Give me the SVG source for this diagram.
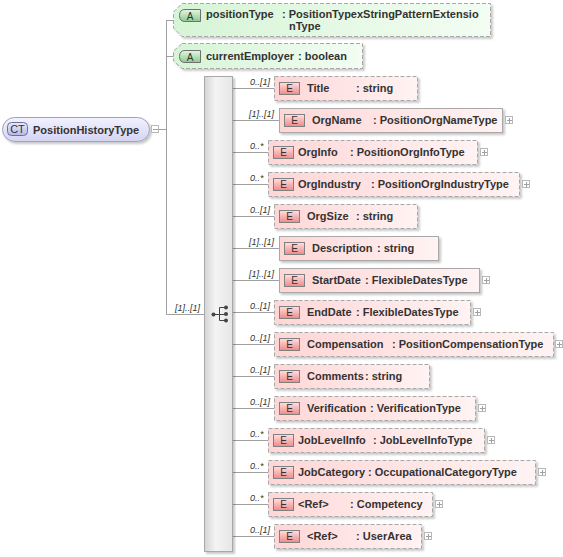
<svg xmlns="http://www.w3.org/2000/svg" width="563" height="557" viewBox="0 0 563 557">
<defs>
<linearGradient id="gEl" x1="0" y1="0" x2="1" y2="0"><stop offset="0" stop-color="#ffd6d6"/><stop offset="1" stop-color="#fff3f3"/></linearGradient>
<linearGradient id="gE" x1="0" y1="0" x2="0" y2="1"><stop offset="0" stop-color="#ffe0e0"/><stop offset="1" stop-color="#f08888"/></linearGradient>
<linearGradient id="gAt" x1="0" y1="0" x2="1" y2="0"><stop offset="0" stop-color="#d6f4d6"/><stop offset="1" stop-color="#f3fdf3"/></linearGradient>
<linearGradient id="gA" x1="0" y1="0" x2="0" y2="1"><stop offset="0" stop-color="#e4f6e4"/><stop offset="1" stop-color="#8cca8c"/></linearGradient>
<linearGradient id="gCT" x1="0" y1="0" x2="0" y2="1"><stop offset="0" stop-color="#f2f2ff"/><stop offset="1" stop-color="#d4d4f4"/></linearGradient>
<linearGradient id="gCTl" x1="0" y1="0" x2="0" y2="1"><stop offset="0" stop-color="#e8e8ff"/><stop offset="1" stop-color="#b8b8e8"/></linearGradient>
<linearGradient id="gSeq" x1="0" y1="0" x2="1" y2="0"><stop offset="0" stop-color="#d4d4d4"/><stop offset="0.4" stop-color="#f4f4f4"/><stop offset="1" stop-color="#e6e6e6"/></linearGradient>
<filter id="sh" x="-5%" y="-10%" width="115%" height="130%"><feDropShadow dx="2" dy="2" stdDeviation="1" flood-color="#000" flood-opacity="0.22"/></filter>
<g id="plus"><rect x="0.5" y="0.5" width="7" height="7" fill="#fff" stroke="#b8b8b8"/><path d="M2 4.5H7M4.5 2V7" stroke="#a0a0a0"/></g>
</defs>
<style>
.conn{stroke:#a0a0a0;stroke-width:1;fill:none}
.card{font-family:"Liberation Sans",Arial,sans-serif;font-style:italic;font-size:9px;fill:#333}
.nm{font-family:"Liberation Sans",Arial,sans-serif;font-weight:bold;font-size:11px;fill:#333}
.tag{font-family:"Liberation Sans",Arial,sans-serif;font-size:10px;fill:#333;text-anchor:middle}
.el{fill:url(#gEl);stroke:#a8a8a8;filter:url(#sh)}
.opt{stroke-dasharray:4,2}
.eb{fill:url(#gE);stroke:#808080}
.at{fill:url(#gAt);stroke:#a8a8a8;stroke-dasharray:4,2;filter:url(#sh)}
.ab{fill:url(#gA);stroke:#707070}
</style>

<g id="connectors">
<path class="conn" d="M159 129.5H166.5M166.5 20V314.5M166.5 20.5H174M166.5 56.5H174M166.5 314.5H204"/>
<path class="conn" d="M233 88.5H274M233 120.5H279M233 152.5H268M233 184.5H268M233 216.5H274M233 248.5H279M233 280.5H279M233 312.5H274M233 344.5H274M233 376.5H274M233 408.5H274M233 440.5H268M233 472.5H268M233 504.5H268M233 536.5H274"/>
<text class="card" x="175" y="311">[1]..[1]</text>
<text class="card" x="250" y="85">0..[1]</text>
<text class="card" x="249" y="117">[1]..[1]</text>
<text class="card" x="250" y="149">0..*</text>
<text class="card" x="250" y="181">0..*</text>
<text class="card" x="250" y="213">0..[1]</text>
<text class="card" x="249" y="245">[1]..[1]</text>
<text class="card" x="249" y="277">[1]..[1]</text>
<text class="card" x="250" y="309">0..[1]</text>
<text class="card" x="250" y="341">0..[1]</text>
<text class="card" x="250" y="373">0..[1]</text>
<text class="card" x="250" y="405">0..[1]</text>
<text class="card" x="250" y="437">0..*</text>
<text class="card" x="250" y="469">0..*</text>
<text class="card" x="250" y="501">0..*</text>
<text class="card" x="250" y="533">0..[1]</text>
</g>

<g id="n-PositionHistoryType">
<rect x="2.5" y="117.5" width="147" height="24" rx="12" fill="url(#gCT)" stroke="#a0a0b8" filter="url(#sh)"/>
<rect x="7.5" y="122.5" width="20" height="13" rx="4" fill="url(#gCTl)" stroke="#707090"/>
<text class="tag" x="17.5" y="133" style="font-size:11px">CT</text>
<text class="nm" x="33" y="133.5">PositionHistoryType</text>
<rect x="151.5" y="125.5" width="7" height="7" fill="#fff" stroke="#b8b8b8"/>
<path d="M153 129.5H158" stroke="#a0a0a0"/>
</g>

<g id="n-positionType">
<polygon class="at" points="182,3.5 490.5,3.5 490.5,36.5 182,36.5 173.5,28 173.5,12"/>
<path class="ab" d="M200.5 9.5H185Q179.5 9.5 179.5 15.5Q179.5 21.5 185 21.5H200.5Z"/>
<text class="tag" x="190" y="19.5">A</text>
<text class="nm" x="206" y="17.5">positionType</text>
<text class="nm" x="282" y="17.5">: PositionTypexStringPatternExtensio</text>
<text class="nm" x="289" y="29.5">nType</text>
</g>

<g id="n-currentEmployer">
<polygon class="at" points="182,43.5 362.5,43.5 362.5,68.5 182,68.5 173.5,61 173.5,51"/>
<path class="ab" d="M200.5 50.5H185Q179.5 50.5 179.5 56.5Q179.5 62.5 185 62.5H200.5Z"/>
<text class="tag" x="190" y="60.5">A</text>
<text class="nm" x="206" y="60">currentEmployer</text>
<text class="nm" x="298" y="60">: boolean</text>
</g>

<g id="n-sequence">
<rect x="204.5" y="76.5" width="28" height="475" fill="url(#gSeq)" stroke="#a8a8a8" filter="url(#sh)"/>
<path d="M213.5 314.5H219.5M219.5 307.5V320.5M219.5 307.5H226M219.5 314.5H226M219.5 320.5H226" stroke="#444" fill="none"/>
<circle cx="213.5" cy="314.5" r="2" fill="#444"/>
<circle cx="226" cy="307.5" r="2" fill="#444"/>
<circle cx="226" cy="314" r="2" fill="#444"/>
<circle cx="226" cy="320.5" r="2" fill="#444"/>
</g>

<g id="n-Title">
<rect class="el opt" x="274.5" y="76.5" width="143" height="24"/>
<rect class="eb" x="279.5" y="82.5" width="20" height="12"/><text class="tag" x="289.5" y="92">E</text>
<text class="nm" x="307" y="92">Title</text><text class="nm" x="356" y="92">: string</text>
</g>
<g id="n-OrgName">
<rect class="el" x="279.5" y="108.5" width="223" height="24"/>
<rect class="eb" x="284.5" y="114.5" width="20" height="12"/><text class="tag" x="294.5" y="124">E</text>
<text class="nm" x="312" y="124">OrgName</text><text class="nm" x="373" y="124">: PositionOrgNameType</text>
<use href="#plus" x="505" y="116"/>
</g>
<g id="n-OrgInfo">
<rect class="el opt" x="268.5" y="140.5" width="209" height="24"/>
<rect class="eb" x="273.5" y="146.5" width="20" height="12"/><text class="tag" x="283.5" y="156">E</text>
<text class="nm" x="298" y="156">OrgInfo</text><text class="nm" x="350" y="156">: PositionOrgInfoType</text>
<use href="#plus" x="480" y="148"/>
</g>
<g id="n-OrgIndustry">
<rect class="el opt" x="268.5" y="172.5" width="251" height="24"/>
<rect class="eb" x="273.5" y="178.5" width="20" height="12"/><text class="tag" x="283.5" y="188">E</text>
<text class="nm" x="298" y="188">OrgIndustry</text><text class="nm" x="371" y="188">: PositionOrgIndustryType</text>
<use href="#plus" x="522" y="180"/>
</g>
<g id="n-OrgSize">
<rect class="el opt" x="274.5" y="204.5" width="143" height="24"/>
<rect class="eb" x="279.5" y="210.5" width="20" height="12"/><text class="tag" x="289.5" y="220">E</text>
<text class="nm" x="307" y="220">OrgSize</text><text class="nm" x="356" y="220">: string</text>
</g>
<g id="n-Description">
<rect class="el" x="279.5" y="236.5" width="159" height="24"/>
<rect class="eb" x="284.5" y="242.5" width="20" height="12"/><text class="tag" x="294.5" y="252">E</text>
<text class="nm" x="312" y="252">Description</text><text class="nm" x="377" y="252">: string</text>
</g>
<g id="n-StartDate">
<rect class="el" x="279.5" y="268.5" width="200" height="24"/>
<rect class="eb" x="284.5" y="274.5" width="20" height="12"/><text class="tag" x="294.5" y="284">E</text>
<text class="nm" x="312" y="284">StartDate</text><text class="nm" x="365" y="284">: FlexibleDatesType</text>
<use href="#plus" x="482" y="276"/>
</g>
<g id="n-EndDate">
<rect class="el opt" x="274.5" y="300.5" width="196" height="24"/>
<rect class="eb" x="279.5" y="306.5" width="20" height="12"/><text class="tag" x="289.5" y="316">E</text>
<text class="nm" x="307" y="316">EndDate</text><text class="nm" x="356" y="316">: FlexibleDatesType</text>
<use href="#plus" x="473" y="308"/>
</g>
<g id="n-Compensation">
<rect class="el opt" x="274.5" y="332.5" width="279" height="24"/>
<rect class="eb" x="279.5" y="338.5" width="20" height="12"/><text class="tag" x="289.5" y="348">E</text>
<text class="nm" x="307" y="348">Compensation</text><text class="nm" x="392" y="348">: PositionCompensationType</text>
<use href="#plus" x="555" y="340"/>
</g>
<g id="n-Comments">
<rect class="el opt" x="274.5" y="364.5" width="155" height="24"/>
<rect class="eb" x="279.5" y="370.5" width="20" height="12"/><text class="tag" x="289.5" y="380">E</text>
<text class="nm" x="307" y="380">Comments</text><text class="nm" x="365" y="380">: string</text>
</g>
<g id="n-Verification">
<rect class="el opt" x="274.5" y="396.5" width="201" height="24"/>
<rect class="eb" x="279.5" y="402.5" width="20" height="12"/><text class="tag" x="289.5" y="412">E</text>
<text class="nm" x="307" y="412">Verification</text><text class="nm" x="370" y="412">: VerificationType</text>
<use href="#plus" x="478" y="404"/>
</g>
<g id="n-JobLevelInfo">
<rect class="el opt" x="268.5" y="428.5" width="216" height="24"/>
<rect class="eb" x="273.5" y="434.5" width="20" height="12"/><text class="tag" x="283.5" y="444">E</text>
<text class="nm" x="298" y="444">JobLevelInfo</text><text class="nm" x="373" y="444">: JobLevelInfoType</text>
<use href="#plus" x="487" y="436"/>
</g>
<g id="n-JobCategory">
<rect class="el opt" x="268.5" y="460.5" width="267" height="24"/>
<rect class="eb" x="273.5" y="466.5" width="20" height="12"/><text class="tag" x="283.5" y="476">E</text>
<text class="nm" x="298" y="476">JobCategory</text><text class="nm" x="368" y="476">: OccupationalCategoryType</text>
<use href="#plus" x="538" y="468"/>
</g>
<g id="n-Competency">
<rect class="el opt" x="268.5" y="492.5" width="164" height="24"/>
<rect class="eb" x="273.5" y="498.5" width="20" height="12"/><text class="tag" x="283.5" y="508">E</text>
<text class="nm" x="298" y="508">&lt;Ref&gt;</text><text class="nm" x="350" y="508">: Competency</text>
<use href="#plus" x="435" y="500"/>
</g>
<g id="n-UserArea">
<rect class="el opt" x="274.5" y="524.5" width="147" height="24"/>
<rect class="eb" x="279.5" y="530.5" width="20" height="12"/><text class="tag" x="289.5" y="540">E</text>
<text class="nm" x="307" y="540">&lt;Ref&gt;</text><text class="nm" x="356" y="540">: UserArea</text>
<use href="#plus" x="424" y="532"/>
</g>
</svg>
